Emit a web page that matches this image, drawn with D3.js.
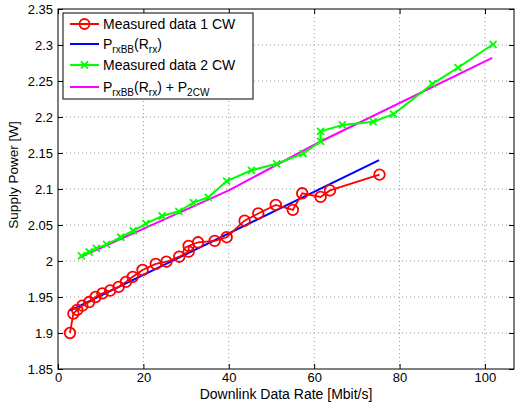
<!DOCTYPE html>
<html><head><meta charset="utf-8">
<script src="https://cdn.jsdelivr.net/npm/d3@7"></script>
<style>
body{margin:0;background:#fff;}
text{font-family:"Liberation Sans",Arial,Helvetica,sans-serif;}
</style></head>
<body><svg id="c" width="515" height="407"></svg>
<script>
const xTicks=[0,20,40,60,80,100];
const xTickLabels=["0","20","40","60","80","100"];
const yTicks=[1.85,1.9,1.95,2,2.05,2.1,2.15,2.2,2.25,2.3,2.35];
const yTickLabels=["1.85","1.9","1.95","2","2.05","2.1","2.15","2.2","2.25","2.3","2.35"];

const red1X=[2.8,3.6,4.5,5.7,7.3,8.8,10.4,12.2,14.2,15.9,17.5,19.8,22.9,25.4,28.4,30.6,30.6,32.8,36.7,39.5,43.7,46.9,51.0,55.0,57.2,61.5,63.7,75.3];
const red1Y=[1.900,1.927,1.932,1.938,1.943,1.950,1.955,1.959,1.964,1.971,1.978,1.9875,1.996,1.999,2.006,2.013,2.021,2.026,2.028,2.033,2.056,2.066,2.078,2.071,2.094,2.089,2.098,2.120];

const blueX=[2.8,75.2];
const blueY=[1.931,2.140];

const green2X=[5.5,7.3,9.0,11.4,14.7,17.6,20.6,24.4,28.3,31.7,35.2,39.5,45.3,51.2,57.4,61.5,61.5,66.6,73.8,78.6,87.7,93.7,101.9];
const green2Y=[2.007,2.0125,2.0176,2.023,2.033,2.042,2.052,2.0625,2.069,2.081,2.0885,2.111,2.126,2.135,2.149,2.166,2.180,2.189,2.1935,2.204,2.246,2.2685,2.301];

const magX=[5.1,40,61.5,101.7];
const magY=[2.005,2.098,2.166,2.282];

const svg=d3.select("#c");
const L=58,R=514,T=9,B=369;
const x=d3.scaleLinear().domain([0,106.8]).range([L,R]);
const y=d3.scaleLinear().domain([1.85,2.35]).range([B,T]);

// grid
const g=svg.append("g");
g.selectAll("line.gx").data(xTicks.filter(d=>d>0)).enter().append("line")
 .attr("x1",d=>x(d)).attr("x2",d=>x(d)).attr("y1",T).attr("y2",B)
 .attr("stroke","#999").attr("stroke-dasharray","1,3").attr("stroke-width",1);
g.selectAll("line.gy").data(yTicks.filter(d=>d>1.85&&d<2.35)).enter().append("line")
 .attr("y1",d=>y(d)).attr("y2",d=>y(d)).attr("x1",L).attr("x2",R)
 .attr("stroke","#999").attr("stroke-dasharray","1,3").attr("stroke-width",1);

// axes with inward ticks
const fmtX=(d,i)=>xTickLabels[i];
const fmtY=(d,i)=>yTickLabels[i];
const ax=svg.append("g").attr("transform",`translate(0,${B})`)
 .call(d3.axisBottom(x).tickValues(xTicks).tickFormat(fmtX).tickSizeInner(-5).tickSizeOuter(0).tickPadding(4));
const ay=svg.append("g").attr("transform",`translate(${L},0)`)
 .call(d3.axisLeft(y).tickValues(yTicks).tickFormat(fmtY).tickSizeInner(-5).tickSizeOuter(0).tickPadding(5));
const axT=svg.append("g").attr("transform",`translate(0,${T})`)
 .call(d3.axisTop(x).tickValues(xTicks).tickFormat("").tickSizeInner(-5).tickSizeOuter(0));
const ayR=svg.append("g").attr("transform",`translate(${R},0)`)
 .call(d3.axisRight(y).tickValues(yTicks).tickFormat("").tickSizeInner(-5).tickSizeOuter(0));
[ax,ay,axT,ayR].forEach(a=>{
  a.select(".domain").remove();
  a.selectAll("text").attr("font-size",13).attr("fill","#000").style("font-family","Liberation Sans, Arial, sans-serif");
  a.selectAll("line").attr("stroke","#000");
});
svg.append("rect").attr("x",L).attr("y",T).attr("width",R-L).attr("height",B-T)
 .attr("fill","none").attr("stroke","#000").attr("stroke-width",1);

const line=d3.line().x(d=>x(d[0])).y(d=>y(d[1]));
const zip=(a,b)=>a.map((v,i)=>[v,b[i]]);

// blue and magenta
svg.append("path").datum(zip(blueX,blueY)).attr("d",line).attr("fill","none").attr("stroke","#0000ff").attr("stroke-width",2);
svg.append("path").datum(zip(magX,magY)).attr("d",line).attr("fill","none").attr("stroke","#ff00ff").attr("stroke-width",2);

// green
const gd=zip(green2X,green2Y);
svg.append("path").datum(gd).attr("d",line).attr("fill","none").attr("stroke","#00ff00").attr("stroke-width",2);
const xs=3.5;
svg.append("g").selectAll("path").data(gd).enter().append("path")
 .attr("d",d=>{const cx=x(d[0]),cy=y(d[1]);return `M${cx-xs},${cy-xs}L${cx+xs},${cy+xs}M${cx-xs},${cy+xs}L${cx+xs},${cy-xs}`;})
 .attr("stroke","#00ff00").attr("stroke-width",1.8);

// red
const rd=zip(red1X,red1Y);
svg.append("path").datum(rd).attr("d",line).attr("fill","none").attr("stroke","#ff0000").attr("stroke-width",1.8);
svg.append("g").selectAll("circle").data(rd).enter().append("circle")
 .attr("cx",d=>x(d[0])).attr("cy",d=>y(d[1])).attr("r",5.3)
 .attr("fill","none").attr("stroke","#ff0000").attr("stroke-width",1.8);

// labels
svg.append("text").attr("x",286).attr("y",399).attr("text-anchor","middle").attr("font-size",14).text("Downlink Data Rate [Mbit/s]");
svg.append("text").attr("transform",`translate(18,${(T+B)/2-14}) rotate(-90)`).attr("text-anchor","middle").attr("font-size",13.5).text("Supply Power [W]");

// legend
const lg=svg.append("g");
lg.append("rect").attr("x",63).attr("y",13).attr("width",190).attr("height",86).attr("fill","#fff").attr("stroke","#000").attr("stroke-width",1);
const legY=[24,44,65,87];
const legCol=["#ff0000","#0000ff","#00ff00","#ff00ff"];
legY.forEach((ly,i)=>{
  lg.append("line").attr("x1",70).attr("x2",99).attr("y1",ly).attr("y2",ly).attr("stroke",legCol[i]).attr("stroke-width",2);
});
lg.append("circle").attr("cx",84.5).attr("cy",legY[0]).attr("r",5).attr("fill","none").attr("stroke","#ff0000").attr("stroke-width",1.8);
lg.append("path").attr("d",`M${84.5-xs},${legY[2]-xs}L${84.5+xs},${legY[2]+xs}M${84.5-xs},${legY[2]+xs}L${84.5+xs},${legY[2]-xs}`).attr("stroke","#00ff00").attr("stroke-width",1.8);
const fs=14, sfs=10;
function addText(ly,parts){
  const t=lg.append("text").attr("x",103).attr("y",ly+5).attr("font-size",fs);
  parts.forEach(p=>{
    const s=t.append("tspan").text(p[0]);
    if(p[1]==="sub") s.attr("font-size",sfs).attr("dy",4);
    else if(p[1]==="up") s.attr("dy",-4);
  });
}
addText(legY[0],[["Measured data 1 CW"]]);
addText(legY[1],[["P"],["rxBB","sub"],["(R","up"],["rx","sub"],[")","up"]]);
addText(legY[2],[["Measured data 2 CW"]]);
addText(legY[3],[["P"],["rxBB","sub"],["(R","up"],["rx","sub"],[") + P","up"],["2CW","sub"]]);
</script></body></html>
